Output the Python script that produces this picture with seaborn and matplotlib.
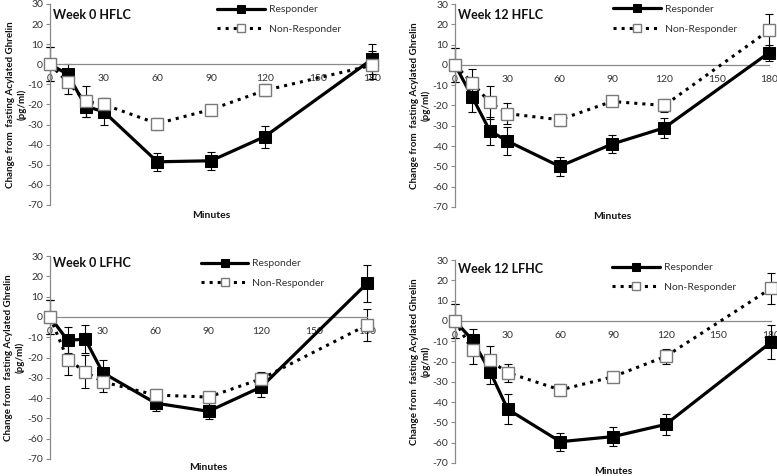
import matplotlib
matplotlib.use("Agg")
import matplotlib.pyplot as plt
import seaborn as sns
import pandas as pd

# ---------------- data ----------------
minutes = [0, 10, 20, 30, 60, 90, 120, 180]
x_ticks = [0, 30, 60, 90, 120, 150, 180]
y_ticks = [-70, -60, -50, -40, -30, -20, -10, 0, 10, 20, 30]

titles = ["Week 0 HFLC", "Week 12 HFLC", "Week 0 LFHC", "Week 12 LFHC"]

w0_hflc_resp = [0, -5, -21, -23.5, -48.5, -48, -36, 2.5]
w0_hflc_resp_err = [8.5, 5, 5, 6.5, 4.5, 4.5, 5.5, 7.5]
w0_hflc_non = [0, -9, -18.5, -20, -29.5, -22.5, -13, -0.5]
w0_hflc_non_err = [8.5, 6, 7.5, 3, 3, 2, 3, 7]

w12_hflc_resp = [0, -16, -32.5, -37.5, -50, -39, -31, 6]
w12_hflc_resp_err = [8.5, 7, 7, 7, 4.5, 4.5, 5, 4]
w12_hflc_non = [0, -9, -18.5, -24, -27, -18, -20, 17]
w12_hflc_non_err = [8.5, 7, 8, 5, 3, 2, 3, 8]

w0_lfhc_resp = [0, -11.5, -11, -27.5, -42.5, -46.5, -34.5, 16.5]
w0_lfhc_resp_err = [8.5, 6.5, 7, 6.5, 4, 4, 5, 9]
w0_lfhc_non = [0, -21, -27, -32, -38.5, -39.5, -30.5, -4]
w0_lfhc_non_err = [8.5, 7.5, 8, 5, 3, 2, 3.5, 8]

w12_lfhc_resp = [0, -9.5, -25, -43.5, -59.5, -57, -51, -10.5]
w12_lfhc_resp_err = [8.5, 5.5, 6, 7.5, 4.5, 4.5, 5, 8.5]
w12_lfhc_non = [0, -14.5, -19.5, -25.5, -34, -27.5, -17.5, 16]
w12_lfhc_non_err = [8.5, 6.5, 7, 4.5, 3, 2, 3.5, 7.5]

panels = [
    (w0_hflc_resp, w0_hflc_resp_err, w0_hflc_non, w0_hflc_non_err),
    (w12_hflc_resp, w12_hflc_resp_err, w12_hflc_non, w12_hflc_non_err),
    (w0_lfhc_resp, w0_lfhc_resp_err, w0_lfhc_non, w0_lfhc_non_err),
    (w12_lfhc_resp, w12_lfhc_resp_err, w12_lfhc_non, w12_lfhc_non_err),
]

# ---------------- style ----------------
sns.set_style("white")
plt.rcParams["font.family"] = ["Lato", "DejaVu Sans"]

W, H = 777, 476
fig = plt.figure(figsize=(W / 100, H / 100), dpi=100)

# pixel boxes: left, right, top, bottom
boxes = [
    (50, 372, 4, 205),
    (455, 769, 4, 207),
    (50, 367, 256, 459),
    (455, 771, 260, 463),
]
title_y = [0.944, 0.945, 0.967, 0.954]
legend_anchor = [(0.52, 0.995), (0.503, 0.997), (0.475, 0.985), (0.497, 0.985)]
ylabel_x = [16, 420, 14, 420]
xlabel_y = [216, 216.7, 467, 472]

gray = "#8a8a8a"
txt = "#333333"

for i, (resp, resp_err, non, non_err) in enumerate(panels):
    l, r, t, b = boxes[i]
    ax = fig.add_axes([l / W, 1 - b / H, (r - l) / W, (b - t) / H])
    df = pd.DataFrame({"Minutes": minutes, "resp": resp, "non": non})

    # error bars (behind markers)
    ax.errorbar(minutes, resp, yerr=resp_err, fmt="none", ecolor="black",
                elinewidth=0.8, capsize=3, capthick=0.8, zorder=2, clip_on=False)
    ax.errorbar(minutes, non, yerr=non_err, fmt="none", ecolor="black",
                elinewidth=0.8, capsize=3, capthick=0.8, zorder=2, clip_on=False)

    sns.lineplot(data=df, x="Minutes", y="resp", ax=ax, color="black",
                 linewidth=2.3, marker="s", markersize=9,
                 markerfacecolor="black", markeredgecolor="black",
                 label="Responder", zorder=3, clip_on=False, estimator=None)
    sns.lineplot(data=df, x="Minutes", y="non", ax=ax, color="black",
                 linewidth=2.2, linestyle=":", marker="s", markersize=9,
                 markerfacecolor="white", markeredgecolor="#7a7a7a",
                 markeredgewidth=1.0,
                 label="Non-Responder", zorder=4, clip_on=False, estimator=None)

    ax.set_xlim(0, 180)
    ax.set_ylim(-70, 30)
    ax.set_xticks(x_ticks)
    ax.set_xticklabels([str(v) for v in x_ticks])
    ax.set_yticks(y_ticks)
    ax.set_yticklabels([str(v) for v in y_ticks])

    for s in ["top", "right"]:
        ax.spines[s].set_visible(False)
    ax.spines["bottom"].set_position(("data", 0))
    ax.spines["bottom"].set_color(gray)
    ax.spines["bottom"].set_linewidth(0.9)
    ax.spines["left"].set_color(gray)
    ax.spines["left"].set_linewidth(0.9)

    ax.tick_params(axis="y", which="both", left=True, length=3, width=0.8,
                   color=gray, pad=2, labelsize=7.5, labelcolor=txt)
    ax.tick_params(axis="x", which="both", bottom=True, length=0, pad=7,
                   labelsize=7.5, labelcolor=txt)
    ax.set_xlabel("")
    ax.set_ylabel("")

    ax.text(0.01, title_y[i], titles[i], transform=ax.transAxes,
            fontsize=9, fontweight="bold", color="#111111", ha="left", va="center")

    leg = ax.legend(loc="upper left", bbox_to_anchor=legend_anchor[i],
                    frameon=False, fontsize=7.5, handlelength=4.6,
                    handletextpad=0.35, labelspacing=1.0, borderpad=0,
                    borderaxespad=0, markerscale=0.6)
    for tx in leg.get_texts():
        tx.set_color(txt)

    ax.text(0.5, (b - xlabel_y[i]) / (b - t), "Minutes", transform=ax.transAxes,
            ha="center", va="center", fontsize=7.5, fontweight="bold", color="#111111")

    fig.text(ylabel_x[i] / W, 1 - ((t + b) / 2) / H,
             "Change from  fasting Acylated Ghrelin\n(pg/ml)",
             rotation=90, ha="center", va="center", multialignment="center",
             fontsize=7, fontweight="bold", color="#111111", linespacing=1.3)

fig.savefig("out.png", dpi=100)
